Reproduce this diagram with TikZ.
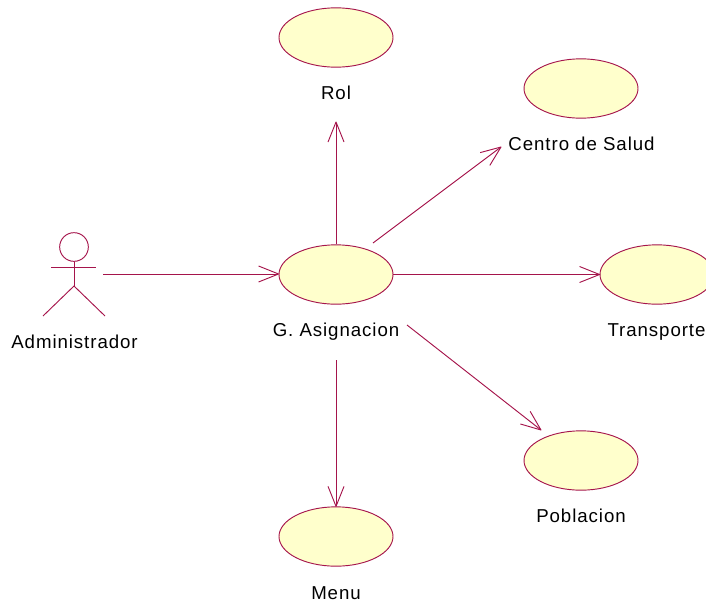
\documentclass[tikz,border=0pt]{standalone}
\usepackage{fontspec}
\setmainfont{Liberation Sans}[LetterSpace=5]
\usetikzlibrary{arrows.meta,shapes.geometric}
\definecolor{umlline}{RGB}{165,20,75}
\definecolor{umlfill}{RGB}{255,255,204}
\pgfdeclarearrow{
  name=OpenVee,
  setup code={
    \pgfarrowssettipend{0pt}
    \pgfarrowssetlineend{-0.4pt}
    \pgfarrowssetbackend{-15pt}
    \pgfarrowssetvisualbackend{-15pt}
  },
  drawing code={
    \pgfsetdash{}{0pt}
    \pgfsetroundjoin
    \pgfpathmoveto{\pgfqpoint{-15pt}{6pt}}
    \pgfpathlineto{\pgfqpoint{0pt}{0pt}}
    \pgfpathlineto{\pgfqpoint{-15pt}{-6pt}}
    \pgfusepathqstroke
  }
}
\tikzset{
  x=0.75pt,y=-0.75pt,
  usecase/.style={ellipse,draw=umlline,fill=umlfill,line width=0.7pt,minimum width=85.5pt,minimum height=44.5pt,inner sep=0pt},
  lbl/.style={font=\fontsize{14pt}{16pt}\selectfont,text=black,inner sep=0pt,anchor=center},
  conn/.style={draw=umlline,line width=0.7pt,-{OpenVee}},
  actorline/.style={draw=umlline,line width=0.7pt}
}
\begin{document}
\begin{tikzpicture}
\useasboundingbox (0,0) rectangle (706,607);
\node[usecase] (rol) at (336,37.5) {};
\node[usecase] (centro) at (581,88.5) {};
\node[usecase] (asig) at (336,274.5) {};
\node[usecase] (trans) at (657,274.5) {};
\node[usecase] (pob) at (581,460.5) {};
\node[usecase] (menu) at (336,536.5) {};
\node[lbl] (lrol) at (336,93) {Rol};
\node[lbl] (lcentro) at (581.5,144) {Centro de Salud};
\node[lbl] (lasig) at (336,332) {G. Asignacion};
\node[lbl] (ltrans) at (656.5,332) {Transporte};
\node[lbl] (lpob) at (581,516) {Poblacion};
\node[lbl] (lmenu) at (336,593) {Menu};
\node[lbl] (ladm) at (74.5,342) {Administrador};
\node[circle,draw=umlline,fill=white,line width=0.7pt,minimum size=21.5pt,inner sep=0pt] (head) at (74,247) {};
\coordinate (hipl) at (51,267.5);
\coordinate (hipr) at (96,267.5);
\coordinate (crotch) at (74,286);
\coordinate (footl) at (43,316);
\coordinate (footr) at (105,316);
\draw[actorline] (head.south) -- (crotch);
\draw[actorline] (hipl) -- (hipr);
\draw[actorline] (footl) -- (crotch) -- (footr);
\coordinate (astart) at (103,274);
\draw[conn] (astart) -- (asig.west |- astart);
\coordinate (rolend) at (336,122);
\draw[conn] (asig.north) -- (rolend);
\coordinate (c1) at (373,243);
\coordinate (c1e) at (501,147);
\draw[conn] (c1) -- (c1e);
\draw[conn] (asig.east) -- (trans.west);
\coordinate (c2) at (407,325);
\coordinate (c2e) at (541,430);
\draw[conn] (c2) -- (c2e);
\coordinate (c3) at (336,360);
\draw[conn] (c3) -- (menu.north);
\end{tikzpicture}
\end{document}
